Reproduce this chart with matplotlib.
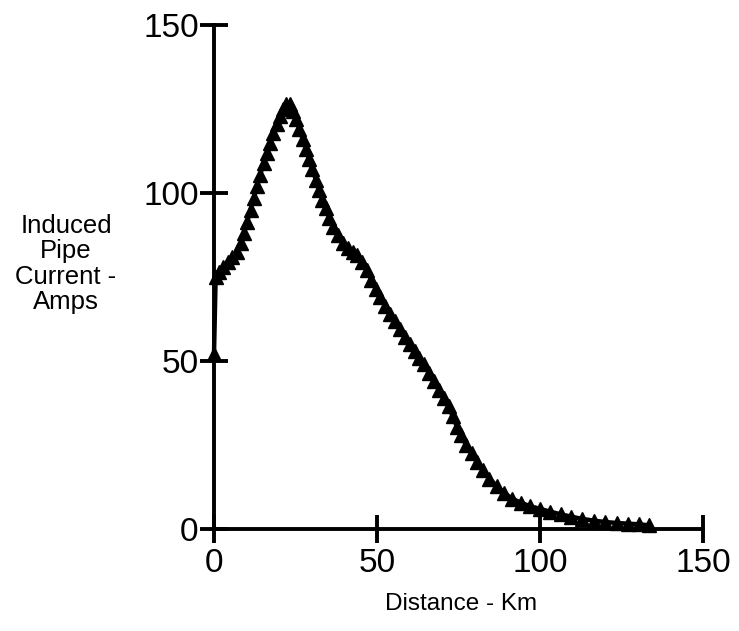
import matplotlib
matplotlib.use('Agg')
import matplotlib.pyplot as plt

# distance along pipeline (km) and induced current (A)
distance = [0, 0.5, 1.5, 2.8, 4.2, 5.6, 7.0, 8.2, 9.2, 10.2, 11.2, 12.2, 13.2,
            14.2, 15.2, 16.2, 17.2, 18.2, 19.2, 20.2, 21.2, 22.2, 23.2,
            24.2, 25.2, 26.2, 27.2, 28.2, 29.2, 30.2, 31.2, 32.2, 33.2,
            34.3, 35.4, 36.6, 38.0, 39.5, 41.0, 42.5, 44.0, 45.5, 47.0,
            48.3, 49.6, 51.0, 52.5, 54.0, 55.5, 57.0, 58.5, 60.0, 61.5,
            63.0, 64.5, 66.0, 67.5, 69.0, 70.5, 72.0, 73.2, 74.5, 75.8,
            77.3, 79.0, 80.6, 82.5, 84.5, 86.7, 89.0, 91.5, 94.2, 97.0,
            100.0, 103.0, 106.3, 109.5, 113.0, 116.5, 120.0, 123.5, 127.0,
            130.5, 133.5]
current = [52, 75, 76.5, 78, 79.5, 81, 82.5, 85, 88, 91.5, 95, 98.5, 102,
           105.5, 109, 112, 115, 118, 120.5, 123, 125, 126.5, 126.5,
           124.5, 122, 119, 116, 113, 110, 107, 104, 101, 98,
           95.5, 92.5, 90, 87.5, 85, 83.5, 82.5, 81.5, 79.5, 77,
           74, 71.5, 69, 66.5, 64, 62, 59.5, 57, 55, 53,
           51, 49, 46.5, 44, 41.5, 39, 36.5, 33.5, 30.5, 28,
           25, 22.5, 20, 17.5, 15, 12.8, 10.8, 9, 7.8, 6.8,
           6, 5.2, 4.4, 3.7, 3.0, 2.5, 2.1, 1.8, 1.6,
           1.4, 1.1]

xticks = [0, 50, 100, 150]
yticks = [0, 50, 100, 150]

plt.rcParams['font.family'] = ['Liberation Sans', 'DejaVu Sans']

fig = plt.figure(figsize=(7.39, 6.31), dpi=100)
ax = fig.add_axes([0.2896, 0.1616, 0.6617, 0.7988])

ax.plot(distance, current, color='black', linewidth=3.2, marker='^',
        markersize=10.5, clip_on=False, zorder=3)

ax.set_xlim(0, 150)
ax.set_ylim(0, 150)
ax.set_xticks(xticks)
ax.set_yticks(yticks)

for side in ['top', 'right']:
    ax.spines[side].set_visible(False)
for side in ['left', 'bottom']:
    ax.spines[side].set_linewidth(2.8)

ax.tick_params(axis='both', direction='inout', length=20, width=2.8,
               labelsize=24)
ax.tick_params(axis='y', pad=1)
ax.tick_params(axis='x', pad=4)

fig.text(66 / 739, 1 - 264 / 631, 'Induced\nPipe\nCurrent -\nAmps',
         ha='center', va='center', fontsize=18.5, linespacing=1.08)
fig.text(461 / 739, 1 - 604 / 631, 'Distance - Km', ha='center',
         va='center', fontsize=17.5)

fig.savefig('out.png', dpi=100)
